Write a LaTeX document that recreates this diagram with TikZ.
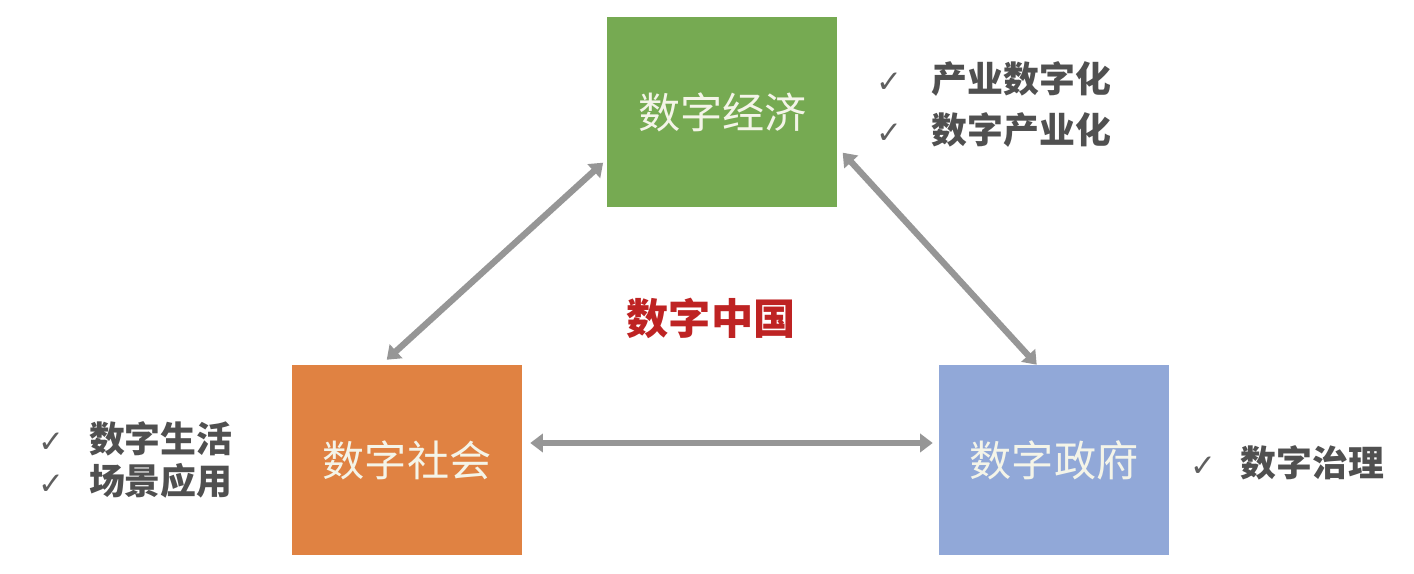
\documentclass[tikz,border=0pt]{standalone}
\usepackage{fontspec}
\usepackage{xcolor}
\usetikzlibrary{positioning,arrows.meta}
\newfontfamily\cjk{Noto Sans CJK SC}
\newfontfamily\symfont{DejaVu Sans}
\definecolor{ecogreen}{RGB}{118,170,82}
\definecolor{socorange}{RGB}{224,130,66}
\definecolor{govblue}{RGB}{145,168,216}
\definecolor{boxtext}{RGB}{244,244,232}
\definecolor{listgrey}{RGB}{80,80,80}
\definecolor{checkgrey}{RGB}{95,95,95}
\definecolor{chinared}{RGB}{190,35,35}
\definecolor{arrowgrey}{RGB}{150,150,150}
\newcommand{\chk}[1]{\makebox[#1][l]{\textcolor{checkgrey}{\symfont\fontsize{22}{22}\selectfont ✓}}}

\begin{document}
\begin{tikzpicture}[
    pillar/.style={minimum width=5.75cm, minimum height=4.75cm, inner sep=0pt,
        text=boxtext, font=\cjk\fontsize{30}{30}\selectfont},
    checklist/.style={inner sep=0pt, align=left, text=listgrey},
    biarrow/.style={arrowgrey, line width=4.5pt,
        {Triangle[length=9pt,width=13pt]}-{Triangle[length=9pt,width=13pt]}}
]
\useasboundingbox (0,0) rectangle (35.35,14.35);
\node[pillar, fill=ecogreen] (eco) at (18.06,11.54) {数字经济};
\node[pillar, fill=socorange] (soc) at (10.175,2.85) {数字社会};
\node[pillar, fill=govblue] (gov) at (26.35,2.85) {数字政府};
\node[text=chinared, font=\cjk\bfseries\fontsize{30}{30}\selectfont] (china) at (17.775,6.4) {数字中国};

% lists
\node[checklist, font=\cjk\bfseries\fontsize{25.5}{36}\selectfont, anchor=west,
    right=0.975cm of eco.east, yshift=0.2cm] (ecolist)
    {\chk{1.375cm}产业数字化\\ \chk{1.375cm}数字产业化};
\node[checklist, font=\cjk\bfseries\fontsize{25.5}{30}\selectfont, anchor=east,
    left=1.475cm of soc.west] (soclist)
    {\chk{1.275cm}数字生活\\ \chk{1.275cm}场景应用};
\node[checklist, font=\cjk\bfseries\fontsize{25.5}{30}\selectfont, anchor=west,
    right=0.525cm of gov.east, yshift=-0.075cm] (govlist)
    {\chk{1.25cm}数字治理};

% links
\draw[biarrow] ([xshift=-0.1cm,yshift=1.125cm]eco.south west) -- ([xshift=2.375cm,yshift=0.125cm]soc.north west);
\draw[biarrow] ([xshift=0.125cm,yshift=1.375cm]eco.south east) -- ([xshift=2.45cm]gov.north west);
\draw[biarrow] ([xshift=0.2cm,yshift=0.425cm]soc.east) -- ([xshift=-0.15cm,yshift=0.425cm]gov.west);
\end{tikzpicture}
\end{document}
